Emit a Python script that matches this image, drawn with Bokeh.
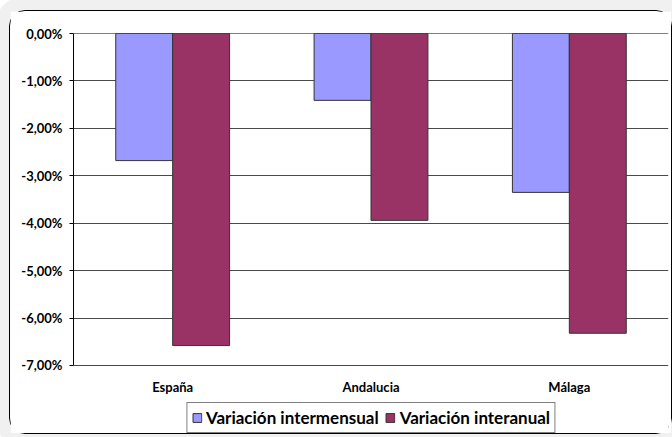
from bokeh.plotting import figure
from bokeh.models import (ColumnDataSource, Range1d, FactorRange, FixedTicker,
                          CustomJSTickFormatter, Span, Legend, LegendItem)
from bokeh.transform import dodge
from bokeh.core.properties import value
from bokeh.embed import file_html
from bokeh.resources import INLINE

# ---- data (percent) ----
categories = ["España", "Andalucia", "Málaga"]
intermensual = [-2.68, -1.41, -3.35]
interanual = [-6.58, -3.94, -6.32]
series_names = ["Variación intermensual", "Variación interanual"]
y_ticks = [0, -1, -2, -3, -4, -5, -6, -7]

FONT = "Lato"
y_min = min(y_ticks)
label_y = y_min - 0.46          # category labels just under the value axis
range_bottom = y_min - 1.455     # extra room in the frame for the legend

src = ColumnDataSource(dict(cat=categories, inter=intermensual, anual=interanual,
                            zero=[0] * len(categories),
                            ly=[label_y] * len(categories)))

p = figure(width=663, height=424, output_backend="svg", toolbar_location=None,
           x_range=FactorRange(*categories, range_padding=0),
           y_range=Range1d(range_bottom, 0), x_axis_location=None,
           min_border_left=63, min_border_right=5, min_border_top=22,
           min_border_bottom=1)
p.margin = (10, 0, 0, 9)
p.styles = {"border": "1px solid #000000", "border-radius": "16px",
            "box-shadow": "0 0 0 14px #f0f0f0"}
p.background_fill_color = "white"
p.border_fill_color = "white"
p.outline_line_color = None

bw = 0.287
r1 = p.vbar(x=dodge("cat", -bw / 2, range=p.x_range), top="zero", bottom="inter",
            width=bw, source=src, fill_color="#9999FF", line_color="#333333",
            line_width=1)
r2 = p.vbar(x=dodge("cat", bw / 2, range=p.x_range), top="zero", bottom="anual",
            width=bw, source=src, fill_color="#993366", line_color="#333333",
            line_width=1)

# zero line (category axis crossing)
p.add_layout(Span(location=0, dimension="width", line_color="black", line_width=1))

# category labels
p.text(x="cat", y="ly", text="cat", source=src, text_align="center",
       text_baseline="middle", text_font=value(FONT), text_font_style="bold",
       text_font_size="13px", text_color="black")

# y axis
p.yaxis.bounds = (y_min, 0)
p.yaxis.ticker = FixedTicker(ticks=y_ticks)
p.yaxis.formatter = CustomJSTickFormatter(
    code="return tick.toFixed(2).replace('.', ',') + '%';")
p.yaxis.axis_line_color = "black"
p.yaxis.major_tick_line_color = "black"
p.yaxis.major_tick_out = 4
p.yaxis.major_tick_in = 0
p.yaxis.minor_tick_line_color = None
p.yaxis.major_label_text_font = FONT
p.yaxis.major_label_text_font_style = "bold"
p.yaxis.major_label_text_font_size = "13px"
p.yaxis.major_label_text_color = "black"
p.yaxis.major_label_standoff = 7

p.ygrid.ticker = FixedTicker(ticks=y_ticks)
p.ygrid.grid_line_color = "#4a4a4a"
p.ygrid.grid_line_width = 1
p.xgrid.grid_line_color = None

legend = Legend(items=[LegendItem(label=series_names[0], renderers=[r1]),
                       LegendItem(label=series_names[1], renderers=[r2])],
                orientation="horizontal", location="bottom_center",
                border_line_color="black", border_line_width=1,
                background_fill_color="white", background_fill_alpha=1,
                label_text_font=FONT, label_text_font_style="bold",
                label_text_font_size="17px", label_text_color="black",
                glyph_width=11, glyph_height=11, label_standoff=4, spacing=6,
                padding=4, margin=1, label_height=17)
p.add_layout(legend, "center")

open("out.html", "w").write(file_html(p, INLINE))
